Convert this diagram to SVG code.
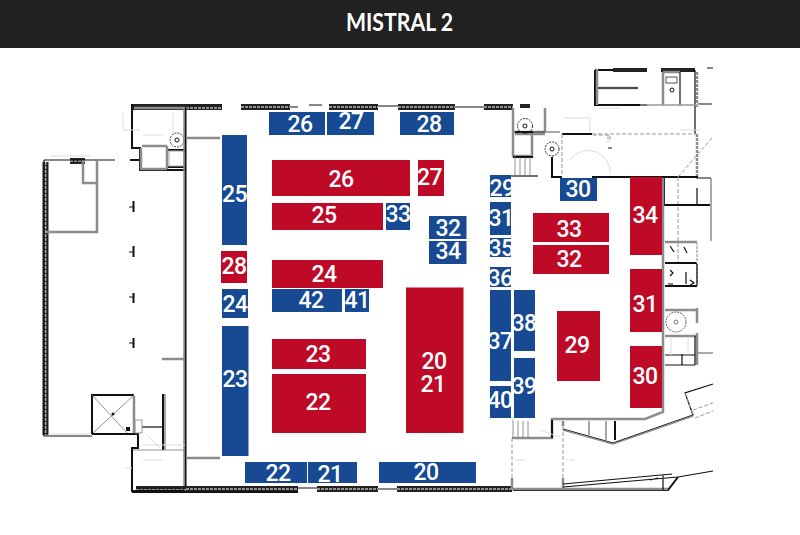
<svg xmlns="http://www.w3.org/2000/svg" width="800" height="535" viewBox="0 0 800 535">
<style>
.b{fill:#174a92}.r{fill:#be0a26}
text{font-family:Roboto,"Liberation Sans",sans-serif;font-weight:500;font-size:23px;letter-spacing:-.5px;fill:#fff;text-anchor:middle}
.k{fill:none;stroke:#111;stroke-width:1.2}
.K{fill:none;stroke:#111;stroke-width:2}
.g{fill:none;stroke:#8c8c8c;stroke-width:2.5}
.G{fill:none;stroke:#8c8c8c;stroke-width:1.5}
.t{fill:none;stroke:#777;stroke-width:.8}
.f{fill:none;stroke:#dcdcdc;stroke-width:1}
.d{fill:none;stroke:#999;stroke-width:1;stroke-dasharray:4 2}
.h{fill:none;stroke:#222;stroke-width:6}
.i{fill:none;stroke:#b5b5b5;stroke-width:1.600;stroke-dasharray:3 1}
</style>
<rect width="800" height="535" fill="#fff"/>
<rect width="800" height="48" fill="#212122"/>
<text x="399.500" y="30.500" style="font-size:24px;font-family:Lato,sans-serif;font-weight:700;letter-spacing:0" textLength="107" lengthAdjust="spacingAndGlyphs">MISTRAL 2</text>
<g id="walls">
<!-- hatched wall sections -->
<path class="h" d="M133 107H222M241 107H290M329 107H378M398 107H455M484 107H513M45.500 162V435M70 161H85M136 489H298M317 489H378M397 489H512"/>
<path class="i" d="M186 108H222M241 107H290M329 107H378M398 107H455M484 107H513M45.500 162V435M70 161H85M186 489H298M317 489H378M397 489H512M136 490H186"/>
<path class="g" d="M134 108H185"/>
<path class="h" style="stroke-width:4" d="M613 70H647M661 70H695M520 106H530"/>
<path class="k" d="M290 107H298M309 105H322M378 106H398M455 107H484M458 107H472M298 488H317M378 489H397"/>
<!-- left annex -->
<path class="k" d="M44 160H97M97 160H115"/>
<path class="G" d="M97 160H115"/>
<path class="g" d="M83 160V183H96M97 160V232H46"/>
<path class="k" d="M44 160V436H92"/>
<path class="f" d="M50 156H90M48 434H90"/>
<!-- wall marks -->
<path class="K" d="M133.500 201V212M133.500 246V257M133.500 293V303M133.500 338V348"/>
<path class="k" d="M129 207H133M129 252H133M129 297H133M129 343H133"/>
<!-- upper left stair core -->
<path class="K" d="M132 104V148H140V170H185M168 150H185M168 167H185M130 160H140"/>
<path class="g" d="M141 148V169H167M142 146H167M167 146V169"/>
<rect x="169" y="151" width="15" height="15" fill="none" stroke="#aaa"/>
<path class="f" d="M123 113V130M123 130H140M143 135H163M173 113V135"/>
<circle cx="177" cy="140" r="7" fill="none" stroke="#444" stroke-dasharray="2 1"/>
<circle cx="177" cy="140" r="2" fill="none" stroke="#111"/>
<!-- main west wall -->
<path class="K" d="M185.500 108V486"/>
<path class="G" d="M184 108V486"/>
<path class="g" d="M186 138H220M186 458H220M162 359H184"/>
<path class="K" d="M163 394V450"/>
<path class="G" d="M165 394V450"/>
<path class="k" d="M142 427H163"/>
<path class="t" d="M132 450H185"/>
<!-- lift box -->
<path class="K" d="M92 434V395H134"/>
<path class="t" d="M92 395L128 434M92 434L134 395"/>
<path class="g" d="M134 396V434"/>
<path class="K" d="M92 434H138V448H132V491H185M132 492H298"/>
<rect x="135" y="420" width="7" height="13" fill="none" stroke="#999"/>
<circle cx="113" cy="414" r="1.500" fill="#111"/><rect x="126" y="427" width="4" height="4" fill="#111"/>
<path class="f" d="M143 445H185M125 468H132M143 460H163M147 435L160 448"/>
<!-- upper middle core -->
<path class="g" d="M513 108V132H545M513 132V156H532V132M515 134H545M545 108V132"/>
<path class="K" d="M515 132H545M513 157H533"/>
<path class="t" d="M515 156V175M520 157V175M525 157V175M530 157V175"/>
<path class="k" d="M513 176H538"/>
<circle cx="525" cy="126" r="7.500" fill="none" stroke="#333" stroke-dasharray="2 1"/><circle cx="525" cy="126" r="2" fill="none" stroke="#111"/>
<circle cx="552" cy="149" r="7" fill="none" stroke="#333" stroke-dasharray="2 1"/><circle cx="552" cy="149" r="2" fill="none" stroke="#111"/>
<path class="K" d="M552 157V177H562"/>
<path class="G" d="M533 132H560"/>
<!-- NE rooms -->
<path class="K" d="M595 70V105H647M595 70H613"/>
<path class="g" d="M597 69V105M598 88H638M663 72H680M663 72V105"/>
<path class="k" d="M598 88H638M680 72V105M647 105H697"/>
<circle cx="672" cy="90" r="2" fill="none" stroke="#111"/>
<rect x="666" y="77" width="11" height="6" fill="none" stroke="#555"/>
<path class="g" d="M697 72V108M697 134V177" style="stroke-dasharray:3 1"/>
<path class="k" d="M695 70V134M707 68H713M698 104H712"/>
<path class="K" d="M562 134H592"/>
<path class="d" d="M592 134H696M562 134V175"/>
<path class="d" d="M593 135H610V142M608 135V142"/>
<path class="K" d="M592 177H698"/>
<path class="f" d="M564 118H590V132M620 108H600M570 160A22 22 0 0 1 610 175M640 105H700M680 130H700"/>
<path class="k" d="M608 148H612M510 176H513"/>
<path class="d" d="M678 177V262M678 177L712 138"/>
<!-- east side -->
<path class="K" d="M664 177V205H710"/>
<path class="g" d="M663 178V412L645 419H552V438H512"/>
<path class="k" d="M696 178H711M697 205V188"/>
<path class="G" d="M711 178V241"/>
<path class="K" d="M665 263H697M665 286H697"/>
<path class="g" d="M665 242H697M665 310H697M665 336H697"/>
<path class="i" d="M697 242V263M697 264V284"/>
<path class="g" d="M697 308V323M697 333V365"/>
<path class="k" d="M697 264V286M665 355H695M665 365H695M682 354V365M695 336V365"/>
<path class="G" d="M698 353H713"/>
<circle cx="676" cy="322" r="10" fill="none" stroke="#555" stroke-dasharray="2 1"/><circle cx="676" cy="322" r="2" fill="none" stroke="#777"/>
<path class="k" d="M670 270l3 3-3 3M686 272v12M690 280l4 3-4 2M668 284h5M670 246l4 6M684 247l3 6"/>
<path class="f" d="M671 338V355M688 338V355"/>
<!-- SE -->
<path class="K" d="M552 420V438"/>
<path class="g" d="M563 421V426"/>
<path class="d" d="M563 426V488M512 438V488"/>
<path class="k" d="M563 429L613 443L693 415L685 393L713 384"/>
<path class="G" d="M563 430L613 444L693 416M589 421V435M606 421V440"/>
<path class="K" d="M615 421V440"/>
<path class="d" d="M685 393L693 415M693 410L713 403M695 418L713 411"/>
<path class="K" d="M513 490H668L678 477"/>
<path class="g" d="M512 489H668M512 478V490M563 478V490"/>
<path class="k" d="M563 487L678 477L713 471M563 484L672 474M663 475V490M650 480L658 478"/>
<path class="t" d="M513 420V438M518 421V438M523 421V438M528 421V438"/>
<path class="f" d="M516 460H525M566 460H575M540 430L560 437"/>
</g>
<g id="stands">
<g id="b25"><rect class="b" x="222" y="135" width="25" height="110"/><text x="234.500" y="202">25</text></g>
<g id="r28"><rect class="r" x="221" y="251" width="26" height="32"/><text x="234" y="274">28</text></g>
<g id="b24"><rect class="b" x="222" y="289" width="26" height="29"/><text x="235" y="312">24</text></g>
<g id="b23"><rect class="b" x="222" y="326" width="26.500" height="130"/><text x="235" y="387">23</text></g>
<g id="b22b"><rect class="b" x="245" y="462" width="62" height="21"/><text x="278" y="481">22</text></g>
<g id="b21"><rect class="b" x="308" y="462" width="49" height="21"/><text x="330" y="482">21</text></g>
<g id="b20"><rect class="b" x="379" y="462" width="97" height="21"/><text x="426" y="480">20</text></g>
<g id="b26"><rect class="b" x="269" y="112" width="56" height="23"/><text x="300" y="132">26</text></g>
<g id="b27"><rect class="b" x="327" y="112" width="47" height="23"/><text x="351" y="129">27</text></g>
<g id="b28"><rect class="b" x="400" y="112" width="54" height="23"/><text x="429" y="132">28</text></g>
<g id="r26"><rect class="r" x="272" y="160" width="138" height="36"/><text x="341" y="187">26</text></g>
<g id="r27"><rect class="r" x="418" y="160" width="26" height="36"/><text x="429.500" y="185">27</text></g>
<g id="r25"><rect class="r" x="272" y="203" width="111" height="27"/><text x="324" y="223">25</text></g>
<g id="b33"><rect class="b" x="386" y="203" width="24" height="27"/><text x="398" y="222">33</text></g>
<g id="b32"><rect class="b" x="429" y="216" width="37.500" height="23"/><text x="448" y="236">32</text></g>
<g id="b34"><rect class="b" x="429" y="241" width="37.500" height="23"/><text x="448" y="259">34</text></g>
<g id="r24"><rect class="r" x="272" y="260" width="111" height="28"/><text x="324" y="282">24</text></g>
<g id="b42"><rect class="b" x="272" y="289" width="70" height="23"/><text x="311" y="308">42</text></g>
<g id="b41"><rect class="b" x="345" y="289" width="24" height="23"/><text x="357" y="308">41</text></g>
<g id="r2021"><rect class="r" x="406" y="287.500" width="57.500" height="145.500"/><text x="434" y="369">20</text><text x="433" y="392">21</text></g>
<g id="r23"><rect class="r" x="272" y="339" width="94" height="30"/><text x="318" y="362">23</text></g>
<g id="r22"><rect class="r" x="272" y="374" width="94" height="59"/><text x="318" y="410">22</text></g>
<g id="b29"><rect class="b" x="490" y="175" width="21" height="22"/><text x="502" y="196">29</text></g>
<g id="b31"><rect class="b" x="490" y="202" width="21" height="33"/><text x="501" y="226">31</text></g>
<g id="b35"><rect class="b" x="490" y="238" width="21" height="19"/><text x="501" y="256">35</text></g>
<g id="b36"><rect class="b" x="490" y="267" width="21" height="20"/><text x="500" y="286">36</text></g>
<g id="b37"><rect class="b" x="490" y="290" width="21" height="91"/><text x="500" y="349">37</text></g>
<g id="b38"><rect class="b" x="514" y="290" width="21" height="61"/><text x="524" y="331">38</text></g>
<g id="b39"><rect class="b" x="514" y="358" width="21" height="60"/><text x="524" y="394">39</text></g>
<g id="b40"><rect class="b" x="490" y="386" width="21" height="32"/><text x="500" y="408">40</text></g>
<g id="b30"><rect class="b" x="560" y="178" width="37" height="23"/><text x="578" y="197">30</text></g>
<g id="r33"><rect class="r" x="533" y="213" width="76" height="29"/><text x="569" y="237">33</text></g>
<g id="r32"><rect class="r" x="533" y="245" width="76" height="29"/><text x="569" y="267">32</text></g>
<g id="r34"><rect class="r" x="630" y="177" width="32" height="78"/><text x="645" y="223">34</text></g>
<g id="r31"><rect class="r" x="630" y="269" width="32" height="63"/><text x="645" y="312">31</text></g>
<g id="r30"><rect class="r" x="630" y="346" width="32" height="62"/><text x="645" y="384">30</text></g>
<g id="r29"><rect class="r" x="557" y="311" width="43" height="70"/><text x="577" y="353">29</text></g>
</g>
</svg>
